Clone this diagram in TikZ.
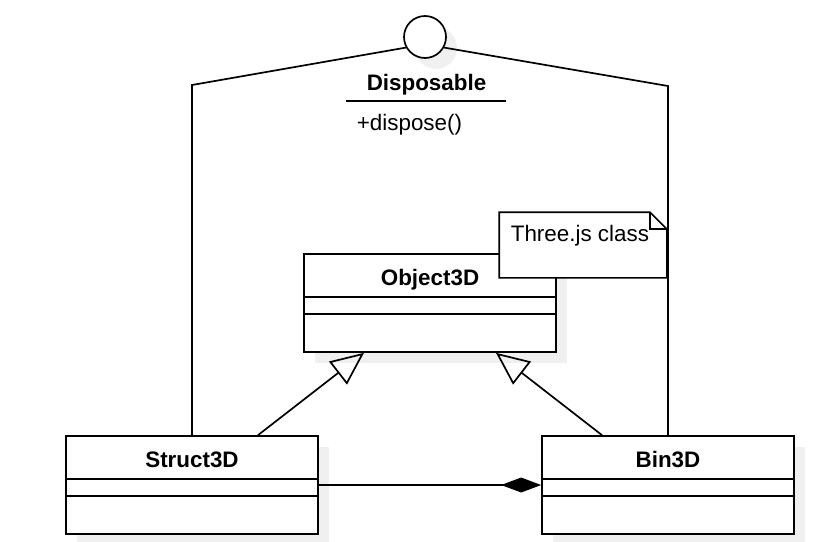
\documentclass[tikz,border=0pt]{standalone}
\usepackage{fontspec}
\setmainfont{Liberation Sans}
\usetikzlibrary{arrows.meta}
\definecolor{shadowgray}{RGB}{240,240,240}

\begin{document}
\begin{tikzpicture}[x=1pt,y=-1pt,line width=1.7pt,
  every node/.style={inner sep=0pt,font=\fontsize{22.4}{27}\selectfont},
  classbox/.style={draw,fill=white,minimum width=252pt,minimum height=98pt},
  shadowbox/.style={fill=shadowgray,minimum width=252pt,minimum height=98pt},
  classname/.style={anchor=base,font=\fontsize{22.4}{27}\selectfont\bfseries},
  inherit/.style={-{Triangle[open,length=33pt,width=29pt]}},
  compose/.style={-{Diamond[length=40pt,width=15pt]}}]
\useasboundingbox (0,0) rectangle (837,541);
\fill [shadowgray] (436,48) circle (21);
\node [draw,fill=white,circle,minimum size=42pt] (iface) at (425,37) {};
\node [classname] (disp) at (426.5,90) {Disposable};
\draw [black] (346,101) -- (506,101);
\node [anchor=base west] (dispose) at (356,130) {+dispose()};
\node [shadowbox] (objshadow) at (441,314) {};
\node [classbox] (obj) at (430,303) {};
\node [classname] (objname) at ([yshift=-32pt]obj.north) {Object3D};
\draw [black] ([yshift=-44pt]obj.north west) -- ([yshift=-44pt]obj.north east);
\draw [black] ([yshift=-61pt]obj.north west) -- ([yshift=-61pt]obj.north east);
\node [minimum width=166pt,minimum height=64pt] (note) at (583,245) {};
\draw [black,fill=white] (note.north west) -- ([xshift=-17pt]note.north east) -- ([yshift=-17pt]note.north east) -- (note.south east) -- (note.south west) -- cycle;
\draw [black] ([xshift=-17pt]note.north east) -- ([xshift=-17pt,yshift=-17pt]note.north east) -- ([yshift=-17pt]note.north east);
\node [anchor=base west] (notetext) at (510,241) {Three.js class};
\node [shadowbox] (structshadow) at (203,496) {};
\node [classbox] (struct) at (192,485) {};
\node [classname] (structname) at ([yshift=-32pt]struct.north) {Struct3D};
\draw [black] ([yshift=-44pt]struct.north west) -- ([yshift=-44pt]struct.north east);
\draw [black] ([yshift=-61pt]struct.north west) -- ([yshift=-61pt]struct.north east);
\node [shadowbox] (binshadow) at (679,496) {};
\node [classbox] (bin) at (668,485) {};
\node [classname] (binname) at ([yshift=-32pt]bin.north) {Bin3D};
\draw [black] ([yshift=-44pt]bin.north west) -- ([yshift=-44pt]bin.north east);
\draw [black] ([yshift=-61pt]bin.north west) -- ([yshift=-61pt]bin.north east);
\coordinate (lbend) at (192,85);
\coordinate (rbend) at (668,86);
\draw [black] (struct.north) -- (lbend) -- (iface.209);
\draw [black] (bin.north) -- (rbend) -- (iface.-29);
\draw [black,inherit] ([xshift=66pt]struct.north) -- ([xshift=-66pt]obj.south);
\draw [black,inherit] ([xshift=-66pt]bin.north) -- ([xshift=66pt]obj.south);
\draw [black,compose] (struct.east) -- (bin.west);
\end{tikzpicture}
\end{document}
